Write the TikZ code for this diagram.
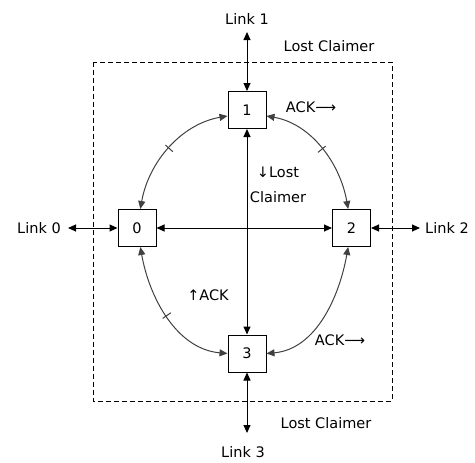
\documentclass[tikz,border=0pt]{standalone}
\usepackage{fontspec}
\setmainfont{DejaVu Sans}
\usetikzlibrary{arrows.meta,decorations.markings}
\begin{document}
\begin{tikzpicture}[x=1pt,y=-1pt,
  font=\fontsize{14.5}{25}\selectfont,
  box/.style={draw,line width=1pt,minimum width=38pt,minimum height=37pt,inner sep=0pt,fill=white},
  lnk/.style={line width=1pt,{Triangle[length=8pt,width=7pt]}-{Triangle[length=8pt,width=7pt]}},
  arcl/.style={lnk,draw=black!75,looseness=0.95},
  crossmark/.style={postaction=decorate,
    decoration={markings, mark=at position 0.5 with {\draw[arrows=-,black!75,line width=1pt] (0pt,-5pt) -- (0pt,5pt);}}}
]
\useasboundingbox (0,0) rectangle (475,463);

% boundary of the node group
\draw[line width=1pt,dash pattern=on 5pt off 3pt] (93,62) rectangle (392,401);

% the four nodes
\node[box] (n1) at (247,110) {1};
\node[box] (n0) at (137,228) {0};
\node[box] (n2) at (351.5,228) {2};
\node[box] (n3) at (247,353.5) {3};

% external links
\node (l1) at (247,19) {Link 1};
\node (l0) at (39,228) {Link 0};
\node (l2) at (447,228) {Link 2};
\node (l3) at (243,452) {Link 3};
\coordinate (e1) at (247,32);
\coordinate (e0) at (68,228);
\coordinate (e2) at (420,228);
\coordinate (e3) at (247,433);
\draw[lnk] (e1) -- (n1);
\draw[lnk] (e0) -- (n0);
\draw[lnk] (e2) -- (n2);
\draw[lnk] (e3) -- (n3);

% internal connections
\draw[lnk] (n1) -- (n3);
\draw[lnk] (n0) -- (n2);

% ring
\draw[arcl,crossmark] (n1.197) to[out=190,in=80] (n0.80);
\draw[arcl,crossmark] (n1.-17) to[out=-10,in=100] (n2.100);
\draw[arcl,crossmark] (n0.-80) to[out=-80,in=175] (n3.180);
\draw[arcl] (n2.-100) to[out=-100,in=5] (n3.0);

% annotations
\node (lct) at (329,46) {Lost Claimer};
\node (ackt) at (311,107) {ACK⟶};
\node[align=center] (lcm) at (278,185) {↓Lost\\Claimer};
\node (ackm) at (208,295) {↑ACK};
\node (ackb) at (340,340) {ACK⟶};
\node (lcb) at (326,423) {Lost Claimer};
\end{tikzpicture}
\end{document}
